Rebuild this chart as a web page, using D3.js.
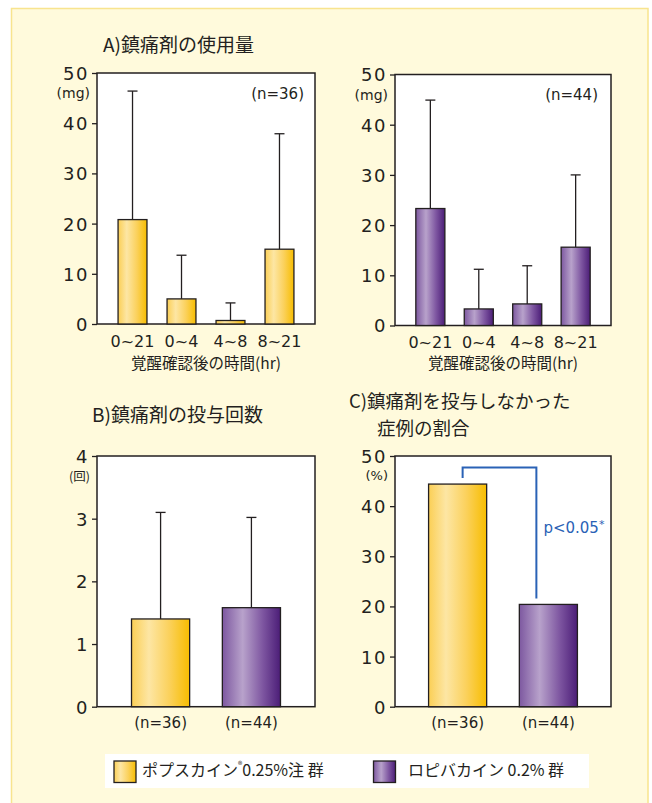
<!DOCTYPE html>
<html>
<head>
<meta charset="utf-8">
<script src="https://cdn.jsdelivr.net/npm/d3@7"></script>
<style>
  html, body { margin: 0; padding: 0; background: #ffffff; }
  svg { display: block; }
  .num { font-family: "DejaVu Sans", sans-serif; }
  .jp { font-family: "Noto Sans CJK JP", sans-serif; }
</style>
</head>
<body>
<svg id="chart" width="652" height="803"></svg>
<script>
// ---- data ----
const timeCategories = ["0~21", "0~4", "4~8", "8~21"];
const groupLabels = ["(n=36)", "(n=44)"];

// A) analgesic dose (mg): mean and SD per time window
const dosePopMean = [20.8, 5.0, 0.7, 14.9];
const dosePopSd   = [25.6, 8.7, 3.5, 23.0];
const doseRopMean = [23.3, 3.3, 4.3, 15.6];
const doseRopSd   = [21.6, 7.9, 7.6, 14.4];

// B) number of analgesic doses: mean and SD
const countMean = [1.40, 1.58];
const countSd   = [1.70, 1.44];

// C) share of cases without analgesic (%)
const noRescuePct = [44.4, 20.4];

const doseTicks  = [0, 10, 20, 30, 40, 50];
const countTicks = [0, 1, 2, 3, 4];
const pctTicks   = [0, 10, 20, 30, 40, 50];

const legendLabels = ["ポプスカイン", "ロピバカイン 0.2% 群"];

// ---- drawing ----
const svg = d3.select("#chart");
const defs = svg.append("defs");
const ink = "#231f20";

function addGradient(id, stops) {
  const g = defs.append("linearGradient").attr("id", id)
    .attr("x1", "0%").attr("x2", "100%").attr("y1", "0%").attr("y2", "0%");
  stops.forEach(([o, c]) => g.append("stop").attr("offset", o).attr("stop-color", c));
}
addGradient("gPop", [["0%", "#fbcf55"], ["30%", "#fde6a4"], ["65%", "#fbd15c"], ["100%", "#f7bd00"]]);
addGradient("gRop", [["0%", "#7d58a0"], ["35%", "#b8a2cb"], ["70%", "#7d55a0"], ["100%", "#4b1d77"]]);
const fills = ["url(#gPop)", "url(#gRop)"];

// cream panel
svg.append("rect")
  .attr("x", 11.5).attr("y", 8.5).attr("width", 636.5).attr("height", 810)
  .attr("fill", "#fffadc").attr("stroke", "#f8e48e").attr("stroke-width", 1.5);

function panel(opts) {
  const { x0, x1, y0, y1, domainMax, ticks, cats, values, sds, fill,
          padInner, padOuter, unit, unitY, unitClass, unitSize } = opts;
  const g = svg.append("g");
  const y = d3.scaleLinear().domain([0, domainMax]).range([y1, y0]);
  const x = d3.scaleBand().domain(cats).range([x0, x1])
    .paddingInner(padInner).paddingOuter(padOuter);

  g.append("rect").attr("x", x0).attr("y", y0)
    .attr("width", x1 - x0).attr("height", y1 - y0)
    .attr("fill", "#ffffff").attr("stroke", ink).attr("stroke-width", 1.5);

  const ax = g.append("g").attr("transform", `translate(${x0},0)`)
    .call(d3.axisLeft(y).tickValues(ticks).tickSize(5).tickPadding(3).tickFormat(d3.format("d")));
  ax.select(".domain").remove();
  ax.selectAll(".tick line").attr("stroke", ink).attr("stroke-width", 1.3);
  ax.selectAll(".tick text").attr("class", "num").attr("font-size", 18)
    .attr("letter-spacing", 1.5).attr("fill", ink).attr("dy", "0.36em");

  g.append("text").attr("class", unitClass).attr("x", x0 - 7).attr("y", unitY)
    .attr("text-anchor", "end").attr("dominant-baseline", "middle")
    .attr("font-size", unitSize).attr("fill", ink).text(unit);

  // error bars (upper only)
  if (sds) {
    const cap = 5;
    cats.forEach((c, i) => {
      const cx = x(c) + x.bandwidth() / 2;
      const top = y(values[i] + sds[i]);
      g.append("line").attr("x1", cx).attr("x2", cx)
        .attr("y1", y(values[i])).attr("y2", top)
        .attr("stroke", ink).attr("stroke-width", 1.3);
      g.append("line").attr("x1", cx - cap).attr("x2", cx + cap)
        .attr("y1", top).attr("y2", top)
        .attr("stroke", ink).attr("stroke-width", 1.3);
    });
  }

  g.selectAll("rect.bar").data(cats).enter().append("rect").attr("class", "bar")
    .attr("x", c => x(c)).attr("width", x.bandwidth())
    .attr("y", (c, i) => y(values[i])).attr("height", (c, i) => y(0) - y(values[i]))
    .attr("fill", (c, i) => Array.isArray(fill) ? fill[i] : fill)
    .attr("stroke", ink).attr("stroke-width", 1.3);

  return { g, x, y };
}

function catLabels(p, cats, yPos, size) {
  cats.forEach(c => {
    p.g.append("text").attr("class", "num")
      .attr("x", p.x(c) + p.x.bandwidth() / 2).attr("y", yPos)
      .attr("text-anchor", "middle").attr("dominant-baseline", "middle")
      .attr("font-size", size).attr("fill", ink).text(c);
  });
}

function title(x, y, txt, size) {
  svg.append("text").attr("class", "jp").attr("x", x).attr("y", y)
    .attr("dominant-baseline", "middle").attr("font-size", size)
    .attr("fill", ink).text(txt);
}

function axisTitle(p, cx, cy) {
  p.g.append("text").attr("class", "jp").attr("x", cx).attr("y", cy)
    .attr("text-anchor", "middle").attr("dominant-baseline", "middle")
    .attr("font-size", 15.5).attr("fill", ink).text("覚醒確認後の時間(hr)");
}

// A) left: ポプスカイン
const pA1 = panel({ x0: 97, x1: 315, y0: 73, y1: 324, domainMax: 50, ticks: doseTicks,
  cats: timeCategories, values: dosePopMean, sds: dosePopSd, fill: fills[0],
  padInner: 0.41, padOuter: 0.43, unit: "(mg)", unitY: 94, unitClass: "num", unitSize: 14 });
catLabels(pA1, timeCategories, 342, 16);
pA1.g.append("text").attr("class", "num").attr("x", 304).attr("y", 94)
  .attr("text-anchor", "end").attr("dominant-baseline", "middle")
  .attr("font-size", 15).attr("fill", ink).text(groupLabels[0]);
axisTitle(pA1, 206, 365);

// A) right: ロピバカイン
const pA2 = panel({ x0: 395, x1: 611, y0: 74.5, y1: 325.5, domainMax: 50, ticks: doseTicks,
  cats: timeCategories, values: doseRopMean, sds: doseRopSd, fill: fills[1],
  padInner: 0.40, padOuter: 0.43, unit: "(mg)", unitY: 95.5, unitClass: "num", unitSize: 14 });
catLabels(pA2, timeCategories, 343, 16);
pA2.g.append("text").attr("class", "num").attr("x", 598).attr("y", 95)
  .attr("text-anchor", "end").attr("dominant-baseline", "middle")
  .attr("font-size", 15).attr("fill", ink).text(groupLabels[1]);
axisTitle(pA2, 503, 365);

title(103, 47, "A)鎮痛剤の使用量", 19);

// B) number of doses
const pB = panel({ x0: 97, x1: 315, y0: 456, y1: 706.7, domainMax: 4, ticks: countTicks,
  cats: groupLabels, values: countMean, sds: countSd, fill: fills,
  padInner: 0.36, padOuter: 0.38, unit: "(回)", unitY: 478, unitClass: "jp", unitSize: 12.5 });
catLabels(pB, groupLabels, 723, 15);
title(92, 417, "B)鎮痛剤の投与回数", 19);

// C) cases without analgesic
const pC = panel({ x0: 395, x1: 611, y0: 456, y1: 706.7, domainMax: 50, ticks: pctTicks,
  cats: groupLabels, values: noRescuePct, sds: null, fill: fills,
  padInner: 0.36, padOuter: 0.37, unit: "(%)", unitY: 476, unitClass: "num", unitSize: 13 });
catLabels(pC, groupLabels, 723, 15);
title(349, 403, "C)鎮痛剤を投与しなかった", 18.5);
title(377, 430, "症例の割合", 18.5);

// significance bracket
{
  const xa = pC.x(groupLabels[0]) + pC.x.bandwidth() / 2 + 5;
  const xb = pC.x(groupLabels[1]) + pC.x.bandwidth() / 2 - 12;
  const yTop = pC.y(47.7);
  const blue = "#2a62b6";
  pC.g.append("path")
    .attr("d", `M${xa},${pC.y(noRescuePct[0]) - 6}V${yTop}H${xb}V${pC.y(noRescuePct[1]) - 6}`)
    .attr("fill", "none").attr("stroke", blue).attr("stroke-width", 2);
  const t = pC.g.append("text").attr("class", "num").attr("x", xb + 7).attr("y", 528)
    .attr("dominant-baseline", "middle").attr("font-size", 15).attr("fill", blue);
  t.append("tspan").text("p<0.05");
  t.append("tspan").attr("font-size", 11).attr("dy", -3).text("*");
}

// legend
{
  const lg = svg.append("g");
  lg.append("rect").attr("x", 105).attr("y", 754).attr("width", 484).attr("height", 34)
    .attr("fill", "#ffffff");
  const items = [{ x: 114, tx: 142 }, { x: 373.5, tx: 408 }];
  items.forEach((it, i) => {
    lg.append("rect").attr("x", it.x).attr("y", 761).attr("width", 22).attr("height", 21.5)
      .attr("fill", fills[i]).attr("stroke", ink).attr("stroke-width", 1.3);
  });
  const t1 = lg.append("text").attr("class", "jp").attr("x", items[0].tx).attr("y", 772)
    .attr("dominant-baseline", "middle").attr("font-size", 16).attr("fill", ink);
  t1.append("tspan").text(legendLabels[0]);
  t1.append("tspan").attr("font-size", 9).attr("dy", -6).text("®");
  t1.append("tspan").attr("dy", 6).text("0.25%注 群");
  lg.append("text").attr("class", "jp").attr("x", items[1].tx).attr("y", 772)
    .attr("dominant-baseline", "middle").attr("font-size", 16).attr("fill", ink)
    .text(legendLabels[1]);
}
</script>
</body>
</html>
